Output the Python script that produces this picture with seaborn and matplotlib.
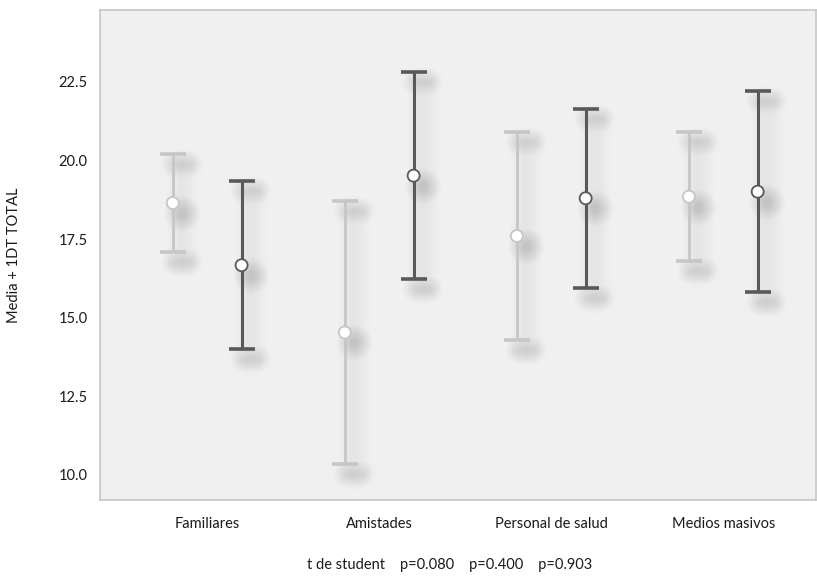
import numpy as np
import pandas as pd
import matplotlib
matplotlib.use('Agg')
import matplotlib.pyplot as plt
import matplotlib.transforms as mtransforms
import seaborn as sns

# Datos (media y 1 DT)
categorias = ['Familiares', 'Amistades', 'Personal de salud', 'Medios masivos']
media_claro = [18.65, 14.53, 17.60, 18.85]
dt_claro = [1.55, 4.18, 3.30, 2.05]
media_oscuro = [16.67, 19.52, 18.80, 19.01]
dt_oscuro = [2.67, 3.29, 2.85, 3.19]
yticks = [10.0, 12.5, 15.0, 17.5, 20.0, 22.5]
nota = 't de student    p=0.080    p=0.400    p=0.903'

sns.set_style('white')
plt.rcParams['font.family'] = ['Lato', 'DejaVu Sans']

fig = plt.figure(figsize=(8.17, 5.77), dpi=100)
ax = fig.add_axes([100 / 817, 1 - 500 / 577, 716 / 817, 490 / 577])
ax.set_facecolor('#f0f0f0')
for sp in ax.spines.values():
    sp.set_color('#c6c6c6')
    sp.set_linewidth(1.2)

pos = np.arange(len(categorias))
off = 0.2
cap = 0.045

df = pd.concat([
    pd.DataFrame({'x': pos - off, 'media': media_claro, 'desv': dt_claro, 'grupo': 'claro'}),
    pd.DataFrame({'x': pos + off, 'media': media_oscuro, 'desv': dt_oscuro, 'grupo': 'oscuro'}),
], ignore_index=True)
colores = {'claro': '#c6c6c6', 'oscuro': '#595959'}

# sombras difusas (capas semitransparentes)
sombra = mtransforms.offset_copy(ax.transData, fig=fig, x=9, y=-10, units='dots')
capas = np.arange(4, 26, 2)
for _, r in df.iterrows():
    lo, hi = r['media'] - r['desv'], r['media'] + r['desv']
    for lw in capas:
        ax.plot([r['x'], r['x']], [lo, hi], color='k', lw=lw, alpha=0.0035,
                transform=sombra, solid_capstyle='round', zorder=1)
        for yy in (lo, hi):
            ax.plot([r['x'] - cap, r['x'] + cap], [yy, yy], color='k', lw=lw * 0.8,
                    alpha=0.0075, transform=sombra, solid_capstyle='round', zorder=1)
        ax.plot([r['x']], [r['media']], 'o', color='k', ms=2 + lw, alpha=0.013, mew=0,
                transform=sombra, zorder=1)

for g, d in df.groupby('grupo'):
    ax.errorbar(d['x'], d['media'], yerr=d['desv'], fmt='none', ecolor=colores[g],
                elinewidth=2.2 if g == 'oscuro' else 2.0, capsize=9.4,
                capthick=2.6, zorder=2)

sns.scatterplot(data=df, x='x', y='media', hue='grupo', palette=colores, ax=ax,
                s=75, legend=False, zorder=3, linewidth=1.3)
# puntos blancos con borde del color del grupo
pts = ax.collections[-1]
pts.set_facecolor('white')
pts.set_edgecolor([colores[g] for g in df['grupo']])

fs = 10.5
ax.set_xlim(-0.623, 3.539)
ax.set_ylim(9.2, 24.79)
ax.set_xticks(pos)
ax.set_xticklabels(categorias, fontsize=fs, color='#1a1a1a')
ax.set_yticks(yticks)
ax.set_yticklabels([f'{v:.1f}' for v in yticks], fontsize=fs, color='#1a1a1a')
ax.tick_params(axis='both', length=0)
ax.tick_params(axis='y', pad=9)
ax.tick_params(axis='x', pad=12)
ax.set_xlabel('')
ax.set_ylabel('Media + 1DT TOTAL', fontsize=fs, color='#1a1a1a', labelpad=27)

fig.text(450 / 817, 1 - 565 / 577, nota, ha='center', va='center', fontsize=fs,
         color='#1a1a1a')

fig.savefig('out.png', dpi=100)
